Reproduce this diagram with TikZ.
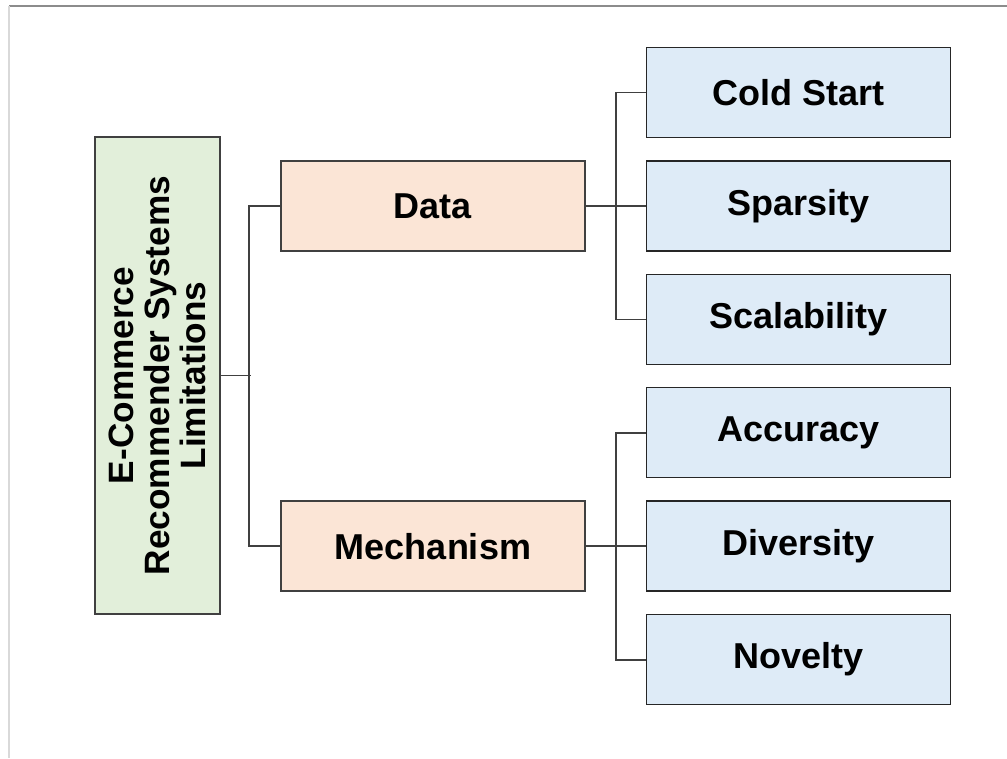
\documentclass[tikz,border=0pt]{standalone}
\usepackage{fontspec}
\setmainfont{Liberation Sans}
\usetikzlibrary{positioning}

\definecolor{rootfill}{HTML}{E2EFDA}
\definecolor{midfill}{HTML}{FBE5D6}
\definecolor{leaffill}{HTML}{DEEBF7}
\definecolor{edgegray}{HTML}{404040}

\begin{document}
\begin{tikzpicture}[x=0.75pt, y=-0.75pt,
  every node/.style={font=\fontsize{27}{27}\selectfont\bfseries},
  box/.style={draw=edgegray, line width=1.1pt, inner sep=0pt,
    minimum width=228pt, minimum height=67.5pt},
  rootbox/.style={box, fill=rootfill, rotate=90, align=center,
    font=\fontsize{26.4}{27}\selectfont\bfseries,
    minimum width=357.75pt, minimum height=93.75pt},
  midbox/.style={box, fill=midfill},
  leafbox/.style={box, fill=leaffill, draw=black!85},
  link/.style={draw=edgegray, line width=1.4pt}
]
\useasboundingbox (0,0) rectangle (1007,758);
% frame lines
\draw[gray!90, line width=1pt] (9,6) -- (1007,6);
\draw[gray!30, line width=1pt] (9,6) -- (9,758);

\node[rootbox] (root) at (157.5,375.5) {E-Commerce\\Recommender Systems\\Limitations};
\node[midbox] (data) at (433,206) {Data};
\node[midbox, below=186.5pt of data] (mech) {Mechanism};

\node[leafbox, right=45pt of data] (sparsity) {Sparsity};
\node[leafbox, above=16.5pt of sparsity] (coldstart) {Cold Start};
\node[leafbox, below=16.5pt of sparsity] (scalability) {Scalability};

\node[leafbox, right=45pt of mech] (diversity) {Diversity};
\node[leafbox, above=16.5pt of diversity] (accuracy) {Accuracy};
\node[leafbox, below=16.5pt of diversity] (novelty) {Novelty};

% root to the two groups
\draw[link] (root.south) -- ++(30,0);
\draw[link] (data.west) -- ++(-31,0) |- (mech.west);

% data group
\draw[link] (data.east) -- (sparsity.west);
\draw[link] (coldstart.west) -- ++(-30,0) |- (scalability.west);

% mechanism group
\draw[link] (mech.east) -- (diversity.west);
\draw[link] (accuracy.west) -- ++(-30,0) |- (novelty.west);
\end{tikzpicture}
\end{document}
